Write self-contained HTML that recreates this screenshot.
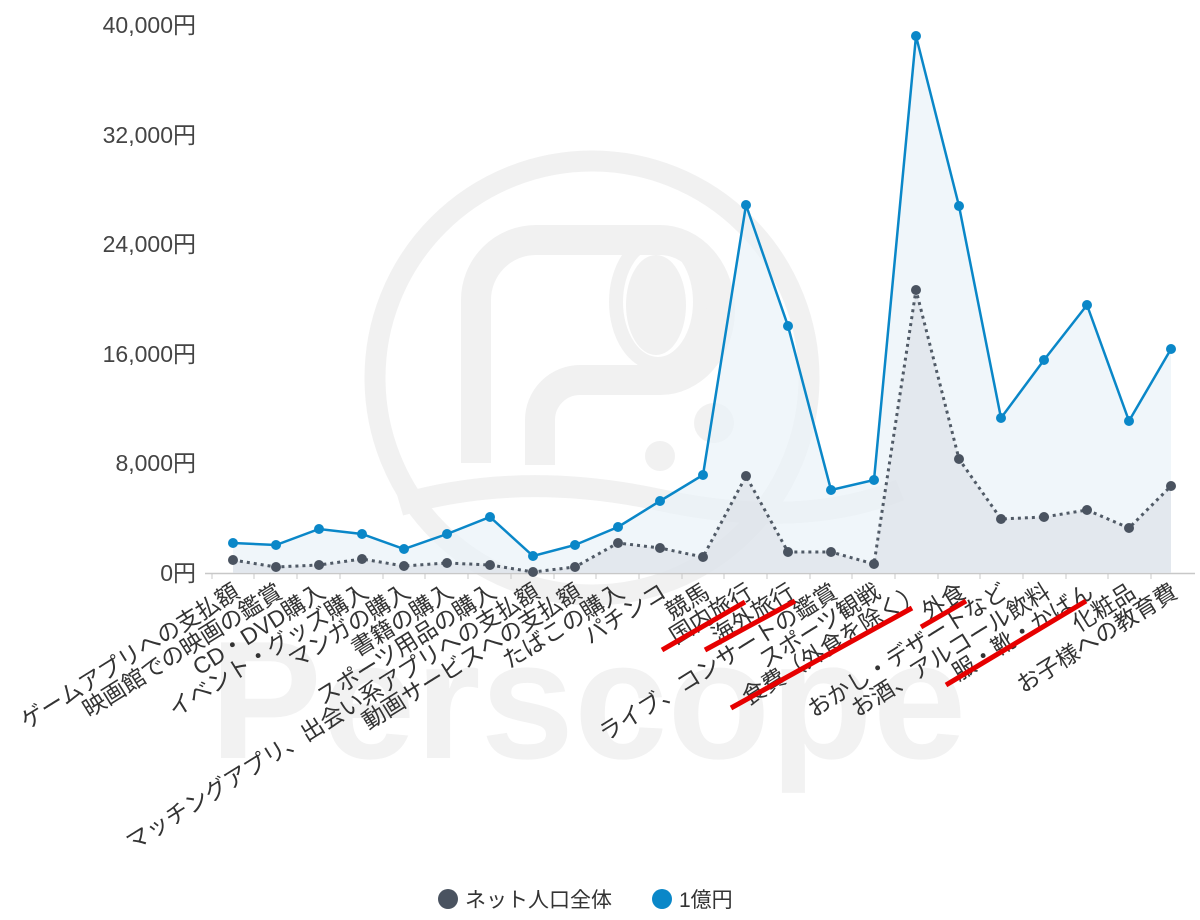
<!DOCTYPE html>
<html><head><meta charset="utf-8"><style>
html,body{margin:0;padding:0;background:#fff;}
svg{display:block;font-family:"Liberation Sans","Noto Sans CJK JP",sans-serif;}
</style></head><body>
<svg width="1200" height="920" viewBox="0 0 1200 920" xmlns="http://www.w3.org/2000/svg">
<!-- watermark -->
<g fill="none" stroke="#f1f1f1" stroke-width="21">
<circle cx="592" cy="378" r="217"/>
</g>
<path d="M476,463 V300 a60,60 0 0 1 60,-60 H660 a60,70 0 0 1 0,140 H580 a40,40 0 0 0 -40,40 V465" fill="none" stroke="#f1f1f1" stroke-width="30"/>
<ellipse cx="658" cy="302" rx="42" ry="62" fill="none" stroke="#f1f1f1" stroke-width="14"/>
<ellipse cx="656" cy="305" rx="30" ry="50" fill="#f1f1f1"/>
<circle cx="660" cy="456" r="15" fill="#f1f1f1"/>
<circle cx="714" cy="423" r="20" fill="#f1f1f1"/>
<path d="M400,505 Q520,470 660,500 T900,490" fill="none" stroke="#f1f1f1" stroke-width="22"/>
<text x="588" y="758" font-size="168" font-weight="bold" fill="#f2f2f2" text-anchor="middle">Perscope</text>

<!-- axis -->
<line x1="205" y1="573.5" x2="1195" y2="573.5" stroke="#c8c8c8" stroke-width="1.5"/>
<g stroke="#c8c8c8" stroke-width="1">
<line x1="212" y1="573" x2="212" y2="579"/><line x1="254" y1="573" x2="254" y2="579"/><line x1="297" y1="573" x2="297" y2="579"/><line x1="340" y1="573" x2="340" y2="579"/><line x1="383" y1="573" x2="383" y2="579"/><line x1="425" y1="573" x2="425" y2="579"/><line x1="468" y1="573" x2="468" y2="579"/><line x1="511" y1="573" x2="511" y2="579"/><line x1="554" y1="573" x2="554" y2="579"/><line x1="596" y1="573" x2="596" y2="579"/><line x1="639" y1="573" x2="639" y2="579"/><line x1="682" y1="573" x2="682" y2="579"/><line x1="724" y1="573" x2="724" y2="579"/><line x1="767" y1="573" x2="767" y2="579"/><line x1="810" y1="573" x2="810" y2="579"/><line x1="852" y1="573" x2="852" y2="579"/><line x1="895" y1="573" x2="895" y2="579"/><line x1="938" y1="573" x2="938" y2="579"/><line x1="980" y1="573" x2="980" y2="579"/><line x1="1023" y1="573" x2="1023" y2="579"/><line x1="1066" y1="573" x2="1066" y2="579"/><line x1="1108" y1="573" x2="1108" y2="579"/><line x1="1151" y1="573" x2="1151" y2="579"/>
</g>
<!-- y labels -->
<g font-size="23" fill="#444" text-anchor="end">
<text x="196" y="581">0円</text>
<text x="196" y="471">8,000円</text>
<text x="196" y="362">16,000円</text>
<text x="196" y="252">24,000円</text>
<text x="196" y="143">32,000円</text>
<text x="196" y="33">40,000円</text>
</g>

<!-- areas -->
<polygon fill="#eaf2f8" fill-opacity="0.7" points="233,573 233,543 276,545 319,529 362,534 404,549 447,534 490,517 533,556 575,545 618,527 660,501 703,475 746,205 788,326 831,490 874,480 916,36 959,206 1001,418 1044,360 1087,305 1129,421 1171,349 1171,573"/>
<polygon fill="#d8dde3" fill-opacity="0.55" points="233,573 233,560 276,567 319,565 362,559 404,566 447,563 490,565 533,572 575,567 618,543 660,548 703,557 746,476 788,552 831,552 874,564 916,290 959,459 1001,519 1044,517 1087,510 1129,528 1171,486 1171,573"/>

<polyline fill="none" stroke="#505a66" stroke-width="3" stroke-dasharray="3,4" points="233,560 276,567 319,565 362,559 404,566 447,563 490,565 533,572 575,567 618,543 660,548 703,557 746,476 788,552 831,552 874,564 916,290 959,459 1001,519 1044,517 1087,510 1129,528 1171,486"/>
<g fill="#4a5360">
<circle cx="233" cy="560" r="5"/><circle cx="276" cy="567" r="5"/><circle cx="319" cy="565" r="5"/><circle cx="362" cy="559" r="5"/><circle cx="404" cy="566" r="5"/><circle cx="447" cy="563" r="5"/><circle cx="490" cy="565" r="5"/><circle cx="533" cy="572" r="5"/><circle cx="575" cy="567" r="5"/><circle cx="618" cy="543" r="5"/><circle cx="660" cy="548" r="5"/><circle cx="703" cy="557" r="5"/><circle cx="746" cy="476" r="5"/><circle cx="788" cy="552" r="5"/><circle cx="831" cy="552" r="5"/><circle cx="874" cy="564" r="5"/><circle cx="916" cy="290" r="5"/><circle cx="959" cy="459" r="5"/><circle cx="1001" cy="519" r="5"/><circle cx="1044" cy="517" r="5"/><circle cx="1087" cy="510" r="5"/><circle cx="1129" cy="528" r="5"/><circle cx="1171" cy="486" r="5"/>
</g>

<polyline fill="none" stroke="#0a87c8" stroke-width="2.5" points="233,543 276,545 319,529 362,534 404,549 447,534 490,517 533,556 575,545 618,527 660,501 703,475 746,205 788,326 831,490 874,480 916,36 959,206 1001,418 1044,360 1087,305 1129,421 1171,349"/>
<g fill="#0a87c8">
<circle cx="233" cy="543" r="5"/><circle cx="276" cy="545" r="5"/><circle cx="319" cy="529" r="5"/><circle cx="362" cy="534" r="5"/><circle cx="404" cy="549" r="5"/><circle cx="447" cy="534" r="5"/><circle cx="490" cy="517" r="5"/><circle cx="533" cy="556" r="5"/><circle cx="575" cy="545" r="5"/><circle cx="618" cy="527" r="5"/><circle cx="660" cy="501" r="5"/><circle cx="703" cy="475" r="5"/><circle cx="746" cy="205" r="5"/><circle cx="788" cy="326" r="5"/><circle cx="831" cy="490" r="5"/><circle cx="874" cy="480" r="5"/><circle cx="916" cy="36" r="5"/><circle cx="959" cy="206" r="5"/><circle cx="1001" cy="418" r="5"/><circle cx="1044" cy="360" r="5"/><circle cx="1087" cy="305" r="5"/><circle cx="1129" cy="421" r="5"/><circle cx="1171" cy="349" r="5"/>
</g>

<!-- x labels -->
<g font-size="23" fill="#333" text-anchor="end">
<text transform="translate(241,596) rotate(-32)">ゲームアプリへの支払額</text>
<text transform="translate(284,596) rotate(-32)">映画館での映画の鑑賞</text>
<text transform="translate(327,596) rotate(-32)">CD・DVD購入</text>
<text transform="translate(370,596) rotate(-32)">イベント・グッズ購入</text>
<text transform="translate(412,596) rotate(-32)">マンガの購入</text>
<text transform="translate(455,596) rotate(-32)">書籍の購入</text>
<text transform="translate(498,596) rotate(-32)">スポーツ用品の購入</text>
<text transform="translate(541,596) rotate(-32)">マッチングアプリ、出会い系アプリへの支払額</text>
<text transform="translate(583,596) rotate(-32)">動画サービスへの支払額</text>
<text transform="translate(626,596) rotate(-32)">たばこの購入</text>
<text transform="translate(668,596) rotate(-32)">パチンコ</text>
<text transform="translate(711,596) rotate(-32)">競馬</text>
<text transform="translate(754,596) rotate(-32)">国内旅行</text>
<text transform="translate(796,596) rotate(-32)">海外旅行</text>
<text transform="translate(839,596) rotate(-32)">ライブ、コンサートの鑑賞</text>
<text transform="translate(882,596) rotate(-32)">スポーツ観戦</text>
<text transform="translate(924,596) rotate(-32)">食費（外食を除く）</text>
<text transform="translate(967,596) rotate(-32)">外食</text>
<text transform="translate(1009,596) rotate(-32)">おかし・デザートなど</text>
<text transform="translate(1052,596) rotate(-32)">お酒、アルコール飲料</text>
<text transform="translate(1095,596) rotate(-32)">服・靴・かばん</text>
<text transform="translate(1137,596) rotate(-32)">化粧品</text>
<text transform="translate(1179,596) rotate(-32)">お子様への教育費</text>
</g>
<g stroke="#e60000" stroke-width="5">
<line x1="662" y1="650" x2="745" y2="602"/>
<line x1="705" y1="650" x2="795" y2="601"/>
<line x1="731" y1="708" x2="912" y2="608"/>
<line x1="921" y1="627" x2="966" y2="601"/>
<line x1="946" y1="685" x2="1086" y2="601"/>
</g>

<!-- legend -->
<circle cx="448" cy="899" r="10" fill="#4a5360"/>
<text x="465" y="907" font-size="21" fill="#333">ネット人口全体</text>
<circle cx="662" cy="899" r="10" fill="#0a87c8"/>
<text x="679" y="907" font-size="21" fill="#333">1億円</text>
</svg>
</body></html>
